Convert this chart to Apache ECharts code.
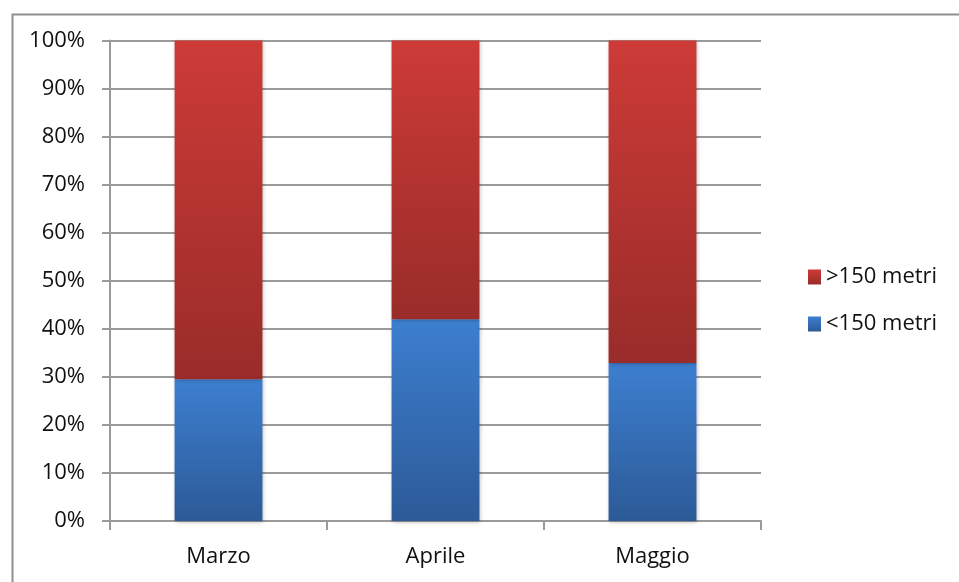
<!DOCTYPE html>
<html>
<head>
<meta charset="utf-8">
<script src="https://cdn.jsdelivr.net/npm/echarts@6/dist/echarts.min.js"></script>
<style>
  html, body { margin: 0; padding: 0; background: #ffffff; }
  #chart { width: 959px; height: 582px; }
</style>
</head>
<body>
<div id="chart"></div>
<script>
// Months on the x axis
const months = ['Marzo', 'Aprile', 'Maggio'];
// Share (%) of each month per distance class
const under150 = [29.5, 42.0, 32.9];
const over150 = [70.5, 58.0, 67.1];
// Series names as shown in the legend
const nameOver = '>150 metri';
const nameUnder = '<150 metri';

const FONT = 'Open Sans';
const FONT_SIZE = 22;
const TEXT_COLOR = '#111111';
const gridColor = '#9a9a9a';

function vGrad(top, bottom) {
  return new echarts.graphic.LinearGradient(0, 0, 0, 1, [
    { offset: 0, color: top },
    { offset: 1, color: bottom }
  ]);
}

const chart = echarts.init(document.getElementById('chart'), null, { renderer: 'canvas' });

chart.setOption({
  animation: false,
  backgroundColor: '#ffffff',
  textStyle: { fontFamily: FONT },
  graphic: [{
    type: 'rect',
    left: 10, top: 12,
    shape: { width: 1000, height: 640 },
    style: { fill: 'none', stroke: '#8f8f8f', lineWidth: 2 },
    silent: true
  }],
  grid: { left: 110, right: 198, top: 40.5, bottom: 61, containLabel: false },
  legend: {
    orient: 'vertical',
    left: 803,
    top: 261,
    itemWidth: 13,
    itemHeight: 15,
    itemGap: 25,
    itemTextGap: 9,
    icon: 'rect',
    data: [nameOver, nameUnder],
    textStyle: { fontFamily: FONT, fontSize: FONT_SIZE, color: TEXT_COLOR, lineHeight: 22 }
  },
  xAxis: {
    type: 'category',
    data: months,
    axisLine: { lineStyle: { color: gridColor, width: 2 } },
    axisTick: { show: true, interval: 0, length: 9, alignWithLabel: false, lineStyle: { color: gridColor, width: 2 } },
    axisLabel: { margin: 25, fontFamily: FONT, fontSize: FONT_SIZE, color: TEXT_COLOR },
    splitLine: { show: false }
  },
  yAxis: {
    type: 'value',
    min: 0, max: 100, interval: 10,
    axisLine: { show: true, lineStyle: { color: gridColor, width: 2 } },
    axisTick: { show: true, length: 8, lineStyle: { color: gridColor, width: 2 } },
    axisLabel: { margin: 25, formatter: '{value}%', fontFamily: FONT, fontSize: FONT_SIZE, color: TEXT_COLOR },
    splitLine: { show: true, lineStyle: { color: gridColor, width: 2 } }
  },
  series: [
    {
      name: nameUnder,
      type: 'bar',
      stack: 'total',
      barWidth: '40.5%',
      data: under150,
      itemStyle: {
        color: vGrad('#3d7fd0', '#2c5a97'),
        shadowColor: 'rgba(0,0,0,0.28)',
        shadowBlur: 4,
        shadowOffsetX: 1,
        shadowOffsetY: 1
      }
    },
    {
      name: nameOver,
      type: 'bar',
      stack: 'total',
      barWidth: '40.5%',
      data: over150,
      itemStyle: {
        color: vGrad('#cd3b37', '#992c29'),
        shadowColor: 'rgba(0,0,0,0.28)',
        shadowBlur: 4,
        shadowOffsetX: 1,
        shadowOffsetY: 1
      }
    }
  ]
});
</script>
</body>
</html>
